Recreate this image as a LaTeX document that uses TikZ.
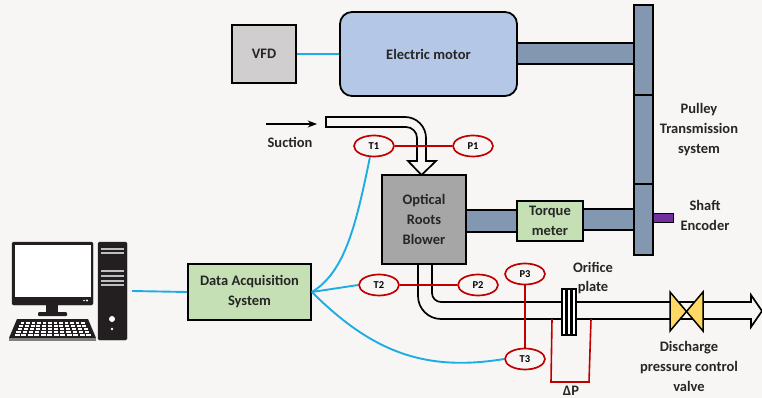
\documentclass[tikz,border=0pt]{standalone}
\usepackage{xcolor}
\usepackage{fontspec}
\setmainfont{Carlito}
\usetikzlibrary{shapes.geometric, arrows.meta, positioning}
\definecolor{pagebg}{HTML}{F7F6F5}
\definecolor{steel}{HTML}{8497B0}
\definecolor{sensorred}{HTML}{C00000}
\definecolor{cable}{HTML}{1CADE4}
\definecolor{pcdark}{HTML}{231F20}
\definecolor{motorblue}{HTML}{B4C7E7}
\definecolor{panelgreen}{HTML}{C5E0B4}
\definecolor{vfdgray}{HTML}{D0CECE}
\definecolor{blowergray}{HTML}{A6A6A6}
\definecolor{encoderpurple}{HTML}{7030A0}
\definecolor{valveyellow}{HTML}{FFD966}
\tikzset{
    myarrow/.style={-{Stealth}, line width=1.4pt},
    box/.style={draw, rectangle, line width=1.8pt, font=\bfseries\fontsize{14.5}{20}\selectfont, align=center, inner sep=0pt, text=black!85},
    shaft/.style={draw, rectangle, line width=1.8pt, fill=steel, inner sep=0pt},
    label/.style={font=\bfseries\fontsize{14.5}{19.7}\selectfont, align=center, text=black!85},
    sensor/.style={draw=sensorred, ellipse, line width=1.7pt, fill=pagebg, minimum width=40pt, minimum height=21pt, inner sep=0pt, font=\bfseries\fontsize{10.5}{12}\selectfont},
    redline/.style={draw=sensorred, line width=1.6pt},
    cableline/.style={draw=cable, line width=1.9pt},
    pipe/.style={draw, line width=1.7pt},
    slot/.style={draw=black!25, line width=1.4pt}
}

\begin{document}
\begin{tikzpicture}[x=1pt, y=-1pt]
    \useasboundingbox [fill=pagebg] (0,0) rectangle (762,398);
    % pipes
    \draw [pipe] (326,117) -- (405,117) arc [start angle=-90, end angle=0, radius=21] -- (426,161) -- (436,161) -- (421.5,175) -- (408,161) -- (417,161) -- (417,138) arc [start angle=0, end angle=-90, radius=11] -- (326,127) -- cycle;
    \draw [pipe] (432,265) -- (432,293) arc [start angle=180, end angle=90, radius=9] -- (751,302) -- (751,295) -- (762,311) -- (751,327) -- (751,319) -- (441,319) arc [start angle=90, end angle=180, radius=23] -- (418,265);
    % shafts and pulley
    \node (motorshaft) [shaft, minimum width=117pt, minimum height=21pt] at (575.5,53.5) {};
    \node (inshaft) [shaft, minimum width=51pt, minimum height=22pt] at (491.5,221) {};
    \node (outshaft) [shaft, minimum width=51pt, minimum height=21pt] at (608.5,219.5) {};
    \node (pulleytop) [shaft, minimum width=19pt, minimum height=90pt] at (643.5,50) {};
    \node (pulleymid) [shaft, minimum width=19pt, minimum height=89pt] at (643.5,139.5) {};
    \node (pulleylow) [shaft, minimum width=19pt, minimum height=71pt] at (643.5,219.5) {};
    \node (encoder) [draw, line width=1pt, fill=encoderpurple, inner sep=0pt, minimum width=20pt, minimum height=9pt] at (663,217.5) {};
    % main blocks
    \node (vfd) [box, fill=vfdgray, minimum width=64pt, minimum height=58pt] at (264,54) {VFD};
    \node (motor) [box, rounded corners=12pt, fill=motorblue, minimum width=177pt, minimum height=84pt] at (428.5,54) {Electric motor};
    \node (blower) [box, fill=blowergray, minimum width=84pt, minimum height=89pt] at (424,219.5) {Optical\\Roots\\Blower};
    \node (torque) [box, fill=panelgreen, minimum width=66pt, minimum height=40pt] at (550,221) {Torque\\meter};
    \node (daq) [box, fill=panelgreen, minimum width=123pt, minimum height=56pt] at (249.5,292) {Data Acquisition\\System};
    % sensors
    \node (t1) [sensor] at (374,146) {T1};
    \node (p1) [sensor] at (473,146) {P1};
    \node (t2) [sensor] at (379,285) {T2};
    \node (p2) [sensor] at (478,285) {P2};
    \node (p3) [sensor] at (525,274) {P3};
    \node (t3) [sensor] at (525,359) {T3};
    \draw [redline] (t1) -- (p1);
    \draw [redline] (t2) -- (p2);
    \draw [redline] (p3) -- (t3);
    % orifice plate
    \node (orifice) [draw, line width=2.6pt, fill=white, inner sep=0pt, minimum width=14pt, minimum height=46pt] at (569,312) {};
    \draw [line width=2.4pt] (orifice.north) ++(-2.6,0) -- ++(0,46);
    \draw [line width=2.4pt] (orifice.north) ++(2.6,0) -- ++(0,46);
    \coordinate (dpleft) at (552,319);
    \coordinate (dpright) at (591,319);
    \draw [redline] (dpleft) -- (551,382) -- (589,382) -- (dpright);
    % valve
    \coordinate (valvemid) at (686.5,311.5);
    \draw [line width=1.5pt, fill=valveyellow] (valvemid) -- (670,292) -- (670,331) -- cycle;
    \draw [line width=1.5pt, fill=valveyellow] (valvemid) -- (703,292) -- (703,331) -- cycle;
    % computer
    \node (monitor) [draw=pcdark, fill=pcdark, rounded corners=1.5pt, inner sep=0pt, minimum width=81pt, minimum height=63pt] at (52.5,273.5) {};
    \fill [white] (14.5,245) rectangle (91,297);
    \fill [pcdark] (46,305) rectangle (58,314);
    \fill [pcdark, rounded corners=1pt] (38,312) rectangle (67,316);
    \fill [white] (84,300.5) circle (0.9);
    \fill [white] (87,300.5) circle (1.2);
    \fill [pcdark] (17,319) -- (88,319) -- (96,338) -- (9,338) -- cycle;
    \fill [black!50] (9,338) rectangle (96,341);
    \foreach \row in {0,...,4} {
        \foreach \col in {0,...,11} {
            \fill [white] ({20.5-\row*1.4+\col*(5.5+\row*0.25)},{321.5+\row*3.1}) rectangle ++({3.8+\row*0.2},2);
        }
    }
    \node (tower) [draw=pcdark, fill=pcdark, rounded corners=1.5pt, inner sep=0pt, minimum width=29pt, minimum height=98pt] at (112.5,291) {};
    \foreach \y in {249,253,271,276,281,285} {
        \draw [slot] (101,\y) -- (124,\y);
    }
    \fill [white] (112,319) circle (3);
    \fill [white] (112,329) circle (1.3);
    % cables
    \coordinate (pcport) at (132,291);
    \draw [cableline] (pcport) -- (daq.west);
    \draw [cableline] (vfd.east) -- (motor.west);
    \draw [cableline] (daq.east) .. controls (345,272) and (356,225) .. (t1.250);
    \draw [cableline] (daq.east) -- (t2.west);
    \draw [cableline] (daq.east) .. controls (372,352) and (425,372) .. (t3.west);
    % suction arrow
    \coordinate (suctionstart) at (266,124);
    \coordinate (suctionend) at (317,124);
    \draw [myarrow] (suctionstart) -- (suctionend);
    % labels
    \node (suction) [label] at (290,142) {Suction};
    \node (pulleytxt) [label] at (699,129.5) {Pulley\\Transmission\\system};
    \node (shafttxt) [label] at (705,215.5) {Shaft\\Encoder};
    \node (orificetxt) [label] at (593,278) {Orifice\\plate};
    \node (dptxt) [label, font=\bfseries\fontsize{14.5}{15}\selectfont] at (571,390.5) {ΔP};
    \node (valvetxt) [label] at (689,366.5) {Discharge\\pressure control\\valve};
\end{tikzpicture}
\end{document}
